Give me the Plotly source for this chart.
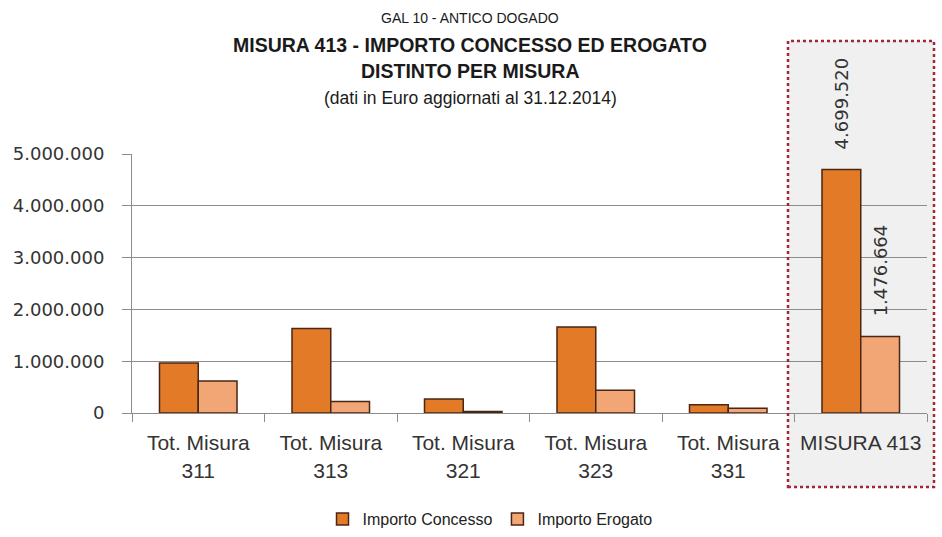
import plotly.graph_objects as go

categories = ["Tot. Misura<br>311", "Tot. Misura<br>313", "Tot. Misura<br>321",
              "Tot. Misura<br>323", "Tot. Misura<br>331", "MISURA 413"]
importo_concesso = [965000, 1630000, 270000, 1660000, 160000, 4699520]
importo_erogato = [620000, 220000, 30000, 440000, 90000, 1476664]
labelled = [False, False, False, False, False, True]

title_lines = ["GAL 10 - ANTICO DOGADO",
               "MISURA 413 - IMPORTO CONCESSO ED EROGATO",
               "DISTINTO PER MISURA",
               "(dati in Euro aggiornati al 31.12.2014)"]

def fmt(v):
    return "\u00a0\u00a0\u00a0" + f"{v:,}".replace(",", ".")

W, H = 942, 537
L, R, T, B = 132, 15, 154, 124
pw, ph = W - L - R, H - T - B

def px(xp):
    return (xp - L) / pw

def py(yp):
    return (H - B - yp) / ph

fig = go.Figure()
fig.add_trace(go.Bar(
    x=categories, y=importo_concesso, name="Importo Concesso",
    marker=dict(color="#E27A28", line=dict(color="#4A2614", width=1.5)),
    text=[fmt(v) if s else "" for v, s in zip(importo_concesso, labelled)],
    textposition="outside", textangle=-90, constraintext="none",
    cliponaxis=False,
    textfont=dict(family="DejaVu Sans", size=18, color="#333333"),
))
fig.add_trace(go.Bar(
    x=categories, y=importo_erogato, name="Importo Erogato",
    marker=dict(color="#F2A676", line=dict(color="#4A2614", width=1.5)),
    text=[fmt(v) if s else "" for v, s in zip(importo_erogato, labelled)],
    textposition="outside", textangle=-90, constraintext="none",
    cliponaxis=False,
    textfont=dict(family="DejaVu Sans", size=18, color="#333333"),
))

# highlight box around MISURA 413
fig.add_shape(type="rect", xref="paper", yref="paper",
              x0=px(788), x1=px(934), y0=py(487), y1=py(41),
              fillcolor="#F0F0F0", line=dict(width=0), layer="below")
fig.add_shape(type="rect", xref="paper", yref="paper",
              x0=px(788), x1=px(934), y0=py(487), y1=py(41),
              fillcolor="rgba(0,0,0,0)",
              line=dict(color="#A3263A", width=2.5, dash="dot"), layer="above")

title_y = [18, 45, 71, 98]
title_size = [14, 19.5, 19.5, 17.5]
title_bold = [False, True, True, False]
for txt, yy, sz, bd in zip(title_lines, title_y, title_size, title_bold):
    fig.add_annotation(text=f"<b>{txt}</b>" if bd else txt, xref="paper", yref="paper",
                       x=px(470), y=py(yy), xanchor="center", yanchor="middle",
                       showarrow=False,
                       font=dict(family="Liberation Sans", size=sz, color="#1a1a1a"))

fig.update_layout(
    width=W, height=H,
    margin=dict(l=L, r=R, t=T, b=B),
    paper_bgcolor="white", plot_bgcolor="rgba(0,0,0,0)",
    separators=",.",
    barmode="group", bargap=0.415, bargroupgap=0,
    showlegend=True,
    legend=dict(orientation="h", xref="container", yref="container",
                x=490 / W, y=1 - 519 / H, xanchor="center", yanchor="middle",
                font=dict(family="Liberation Sans", size=16, color="#222222"),
                itemwidth=30, traceorder="normal"),
    font=dict(family="Liberation Sans", color="#333333"),
)
fig.update_yaxes(range=[0, 5000000], dtick=1000000, tickformat=",d",
                 showgrid=True, gridcolor="#8C8C8C", gridwidth=1,
                 showline=True, linecolor="#8C8C8C", linewidth=1,
                 ticks="outside", ticklen=9, tickcolor="#8C8C8C",
                 ticklabelstandoff=14, automargin=False,
                 tickfont=dict(family="DejaVu Sans", size=18, color="#333333"),
                 zeroline=False)
fig.update_xaxes(showline=True, linecolor="#8C8C8C", linewidth=1,
                 ticks="outside", ticklen=8, tickcolor="#8C8C8C",
                 tickson="boundaries", showgrid=False, automargin=False,
                 ticklabelstandoff=11, tickangle=0,
                 tickfont=dict(family="Liberation Sans", size=21, color="#333333"))

fig.write_html("out.html", config={"displayModeBar": False},
               post_script="document.body.style.margin='0';")
